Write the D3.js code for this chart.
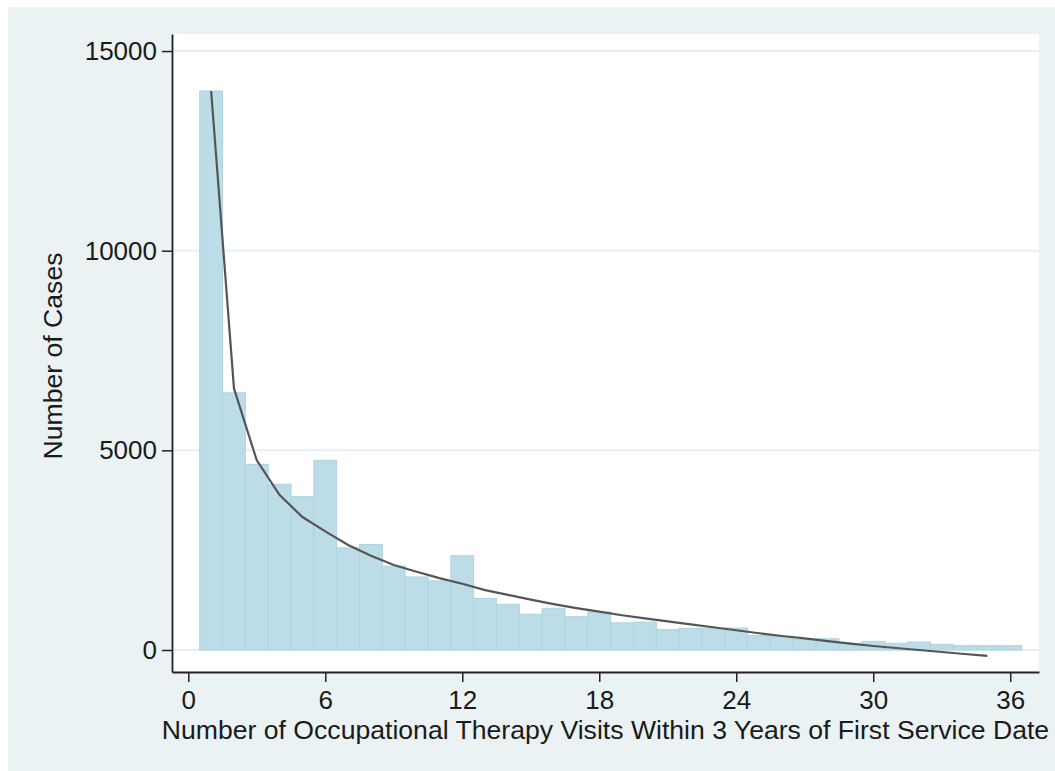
<!DOCTYPE html>
<html>
<head>
<meta charset="utf-8">
<script src="https://cdn.jsdelivr.net/npm/d3@7"></script>
<style>
  body { margin: 0; background: #fff; }
  text { font-family: "Liberation Sans", Arial, sans-serif; fill: #1a1a1a; }
</style>
</head>
<body>
<div id="chart"></div>
<script>
// visits (x) and number of cases per visit count
const visits = d3.range(1, 37);
const cases = [14000, 6440, 4650, 4150, 3840, 4750, 2560, 2640, 2100, 1830, 1730, 2360,
  1290, 1145, 895, 1045, 835, 950, 680, 700, 510, 545, 535, 550,
  360, 335, 268, 282, 168, 217, 168, 200, 142, 110, 110, 110];
// fitted curve
const fitX = d3.range(1, 36);
const fitY = [14000, 6550, 4750, 3880, 3330, 2970, 2630, 2360, 2130, 1960, 1800, 1660,
  1500, 1380, 1260, 1150, 1050, 960, 870, 790, 715, 640, 570, 495,
  420, 350, 290, 220, 160, 100, 50, 0, -50, -100, -145];
const xTicks = [0, 6, 12, 18, 24, 30, 36];
const yTicks = [0, 5000, 10000, 15000];

const W = 1055, H = 771;
const svg = d3.select("#chart").append("svg")
  .attr("width", W)
  .attr("height", H);

// outer panel
svg.append("rect")
  .attr("x", 8).attr("y", 7)
  .attr("width", W - 8).attr("height", H - 7)
  .attr("fill", "#eaf2f3");

const pLeft = 172, pRight = 1039, pTop = 34, pBottom = 672;

svg.append("rect")
  .attr("x", pLeft).attr("y", pTop)
  .attr("width", pRight - pLeft).attr("height", pBottom - pTop)
  .attr("fill", "#fff");

const x = d3.scaleLinear().domain([-0.714, 37.26]).range([pLeft, pRight]);
const y = d3.scaleLinear().domain([-551, 15427]).range([pBottom, pTop]);

// grid
svg.append("g")
  .selectAll("line")
  .data(yTicks)
  .enter().append("line")
  .attr("x1", pLeft).attr("x2", pRight)
  .attr("y1", d => y(d)).attr("y2", d => y(d))
  .attr("stroke", "#e6eff1")
  .attr("stroke-width", 2);

// bars
svg.append("g")
  .selectAll("rect")
  .data(visits)
  .enter().append("rect")
  .attr("x", d => x(d - 0.5))
  .attr("width", d => x(d + 0.5) - x(d - 0.5))
  .attr("y", (d, i) => y(cases[i]))
  .attr("height", (d, i) => y(0) - y(cases[i]))
  .attr("fill", "#bcdde8")
  .attr("stroke", "#acd4e1")
  .attr("stroke-width", 1);

// fitted line
const line = d3.line()
  .x((d, i) => x(fitX[i]))
  .y(d => y(d));
svg.append("path")
  .datum(fitY)
  .attr("d", line)
  .attr("fill", "none")
  .attr("stroke", "#555")
  .attr("stroke-width", 2.2);

// axes
const xAxis = d3.axisBottom(x).tickValues(xTicks).tickSize(10).tickPadding(9).tickSizeOuter(0)
  .tickFormat(d3.format("d"));
const yAxis = d3.axisLeft(y).tickValues(yTicks).tickSize(10).tickPadding(5).tickSizeOuter(0)
  .tickFormat(d3.format("d"));

const gx = svg.append("g")
  .attr("transform", "translate(0," + pBottom + ")")
  .call(xAxis);
gx.select(".domain").attr("stroke", "#222").attr("stroke-width", 1.8);
gx.selectAll(".tick line").attr("stroke", "#222").attr("stroke-width", 1.5);
gx.selectAll("text").attr("font-size", "26px").attr("fill", "#1a1a1a")
  .attr("font-family", "Liberation Sans, Arial, sans-serif");

const gy = svg.append("g")
  .attr("transform", "translate(" + pLeft + ",0)")
  .call(yAxis);
gy.select(".domain").attr("stroke", "#222").attr("stroke-width", 1.8);
gy.selectAll(".tick line").attr("stroke", "#222").attr("stroke-width", 1.5);
gy.selectAll("text").attr("font-size", "26px").attr("fill", "#1a1a1a")
  .attr("font-family", "Liberation Sans, Arial, sans-serif");

// titles
svg.append("text")
  .attr("x", (pLeft + pRight) / 2)
  .attr("y", 739)
  .attr("text-anchor", "middle")
  .attr("font-size", "26.6px")
  .text("Number of Occupational Therapy Visits Within 3 Years of First Service Date");

svg.append("text")
  .attr("transform", "translate(62,356) rotate(-90)")
  .attr("text-anchor", "middle")
  .attr("font-size", "26.6px")
  .text("Number of Cases");
</script>
</body>
</html>
